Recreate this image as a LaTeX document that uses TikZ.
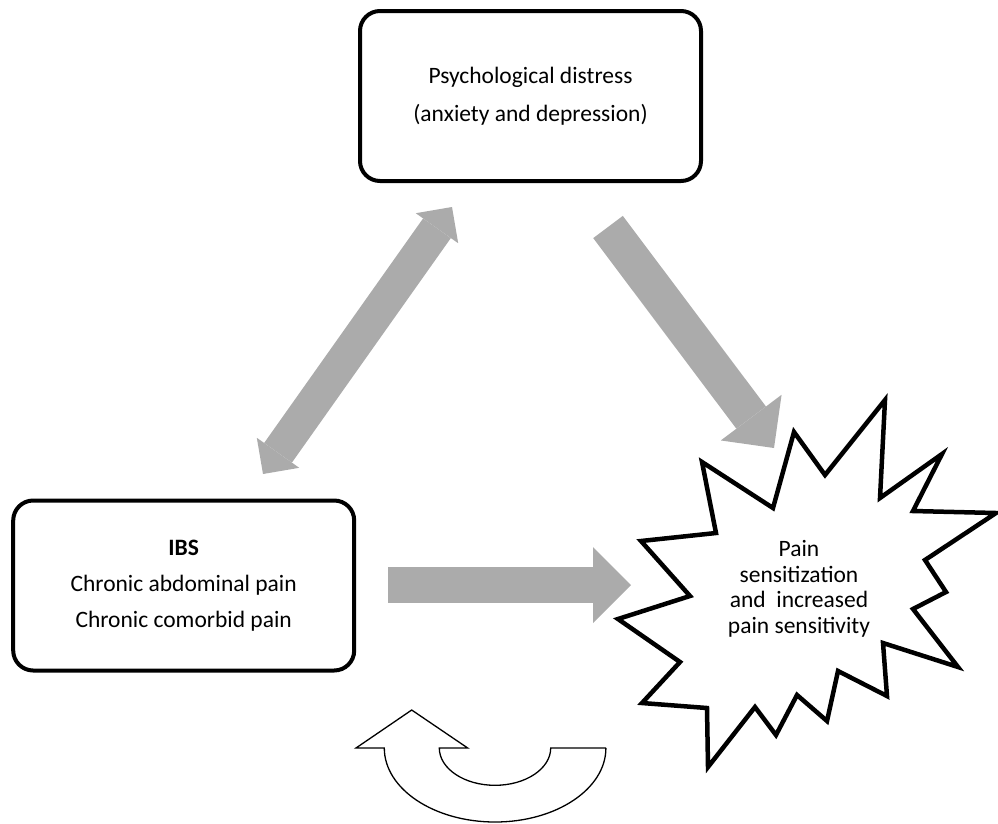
\documentclass[tikz,border=0pt]{standalone}
\usepackage{fontspec}
\setmainfont{Carlito}
\usetikzlibrary{arrows.meta}
\definecolor{arrowgray}{RGB}{171,171,171}

\begin{document}
\begin{tikzpicture}
[x=1pt,y=1pt,yscale=-1,
txt/.style={align=center,font=\fontsize{23.5}{25.5}\selectfont},
box/.style={txt,draw=black,line width=4pt,rounded corners=20pt,inner sep=0pt,minimum width=341pt,minimum height=170pt},
fat/.style={draw=arrowgray,line width=#1},
bighead/.style={-{Triangle[length=38pt,width=76pt,line width=0pt]}},
smallhead/.style={{Triangle[length=26pt,width=52pt,line width=0pt]}-{Triangle[length=26pt,width=52pt,line width=0pt]}}]
\useasboundingbox (0,0) rectangle (998,823);

\node[box] (distress) at (530.5,96) {Psychological distress\\[12.5pt](anxiety and depression)};
\node[box] (ibs) at (183.7,585.5) {\textbf{IBS}\\[10.5pt]Chronic abdominal pain\\[10.5pt]Chronic comorbid pain};

\coordinate (d1) at (263,474);
\coordinate (d2) at (452,207);
\coordinate (s1) at (608,227);
\coordinate (s2) at (774,448);
\coordinate (i1) at (388,585);
\coordinate (i2) at (631,585);

\draw[fat=34pt,smallhead] (d1) -- (d2);
\draw[fat=37pt,bighead] (s1) -- (s2);
\draw[fat=36pt,bighead] (i1) -- (i2);

\draw[line width=4.5pt,fill=white] (885,400) -- (880,498) -- (942,454) -- (913,511) -- (996,513)
  -- (925,560) -- (946,592) -- (913,609) -- (958,667) -- (883,643) -- (887,696)
  -- (838,671) -- (827,721) -- (797,695) -- (776,735) -- (755,707) -- (708,767)
  -- (707,708) -- (642,703) -- (680,662) -- (618,619) -- (690,596) -- (641,541)
  -- (716,533) -- (702,462) -- (773,508) -- (794,432) -- (825,475) -- cycle;
\node[txt] (pain) at (799,589) {Pain\\sensitization\\and~ increased\\pain sensitivity};

\draw[line width=1.3pt,fill=white] (606,748) -- (550.7,748)
  arc[start angle=0,end angle=180,x radius=55.7pt,y radius=37.3pt]
  -- (467.7,748) -- (411.7,710) -- (356,748) -- (384.3,748)
  arc[start angle=180,end angle=0,x radius=110.8pt,y radius=74pt] -- cycle;
\end{tikzpicture}
\end{document}
